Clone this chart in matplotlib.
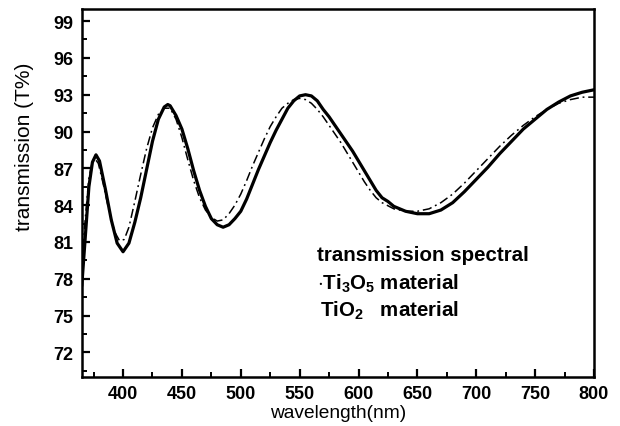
import matplotlib
matplotlib.use('Agg')
import matplotlib.pyplot as plt
from matplotlib.ticker import MultipleLocator

plt.rcParams['font.family'] = ['Liberation Sans', 'DejaVu Sans']
plt.rcParams['mathtext.fontset'] = 'custom'
plt.rcParams['mathtext.rm'] = 'Liberation Sans:bold'
plt.rcParams['mathtext.it'] = 'Liberation Sans:bold'
plt.rcParams['mathtext.bf'] = 'Liberation Sans:bold'

# TiO2 material (solid line)
wl_tio2 = [365, 368, 371, 374, 377, 380, 385, 390, 395, 400,
           405, 410, 415, 420, 425, 430, 435, 438, 440, 445,
           450, 455, 460, 465, 470, 475, 480, 485, 490, 495,
           500, 505, 510, 515, 520, 525, 530, 535, 540, 545,
           550, 555, 560, 565, 570, 575, 580, 585, 590, 595,
           600, 605, 610, 615, 620, 625, 630, 640, 650, 660,
           670, 680, 690, 700, 710, 720, 730, 740, 750, 760,
           770, 780, 790, 800]
t_tio2 = [77.5, 81.5, 85.5, 87.5, 88.1, 87.6, 85.3, 82.8, 80.9, 80.2,
          80.9, 82.6, 84.6, 86.9, 89.2, 91.0, 92.0, 92.2, 92.1, 91.3,
          90.2, 88.6, 86.8, 85.2, 83.9, 82.9, 82.4, 82.2, 82.4, 82.9,
          83.5, 84.5, 85.7, 86.9, 88.0, 89.1, 90.1, 91.0, 91.9, 92.5,
          92.9, 93.0, 92.9, 92.5, 91.8, 91.2, 90.5, 89.8, 89.1, 88.4,
          87.6, 86.8, 86.0, 85.2, 84.6, 84.3, 83.9, 83.5, 83.3, 83.3,
          83.6, 84.2, 85.1, 86.1, 87.1, 88.2, 89.2, 90.2, 91.0, 91.8,
          92.4, 92.9, 93.2, 93.4]

# Ti3O5 material (dash-dot line)
wl_ti3o5 = [365, 368, 371, 374, 376, 379, 383, 388, 393, 397,
            401, 405, 410, 415, 420, 425, 430, 435, 440, 445,
            450, 455, 460, 465, 470, 475, 480, 485, 490, 495,
            500, 505, 510, 515, 520, 525, 530, 535, 540, 545,
            550, 555, 560, 565, 570, 575, 580, 585, 590, 595,
            600, 605, 610, 615, 620, 630, 640, 650, 660, 670,
            680, 690, 700, 710, 720, 730, 740, 750, 760, 770,
            780, 790, 800]
t_ti3o5 = [79.0, 83.0, 86.2, 87.6, 87.8, 87.4, 85.8, 83.6, 81.8, 81.1,
           81.2, 82.2, 84.3, 86.5, 88.6, 90.3, 91.4, 91.9, 91.9, 91.0,
           89.5, 87.7, 86.0, 84.6, 83.6, 83.0, 82.7, 82.8, 83.3, 84.0,
           84.9, 86.0, 87.2, 88.3, 89.4, 90.4, 91.2, 91.9, 92.3, 92.6,
           92.7, 92.6, 92.3, 91.8, 91.2, 90.5, 89.8, 89.1, 88.3, 87.5,
           86.7, 85.9, 85.2, 84.6, 84.2, 83.7, 83.5, 83.5, 83.7, 84.2,
           84.9, 85.8, 86.8, 87.8, 88.8, 89.7, 90.5, 91.2, 91.8, 92.3,
           92.6, 92.8, 92.8]

fig = plt.figure(figsize=(6.2, 4.27), dpi=100)
ax = fig.add_axes([0.132, 0.115, 0.826, 0.862])

ax.plot(wl_tio2, t_tio2, color='black', linewidth=2.3, solid_joinstyle='round')
ax.plot(wl_ti3o5, t_ti3o5, color='black', linewidth=1.1, linestyle=(0, (6, 2.5, 1.2, 2.5)))

ax.set_xlim(365, 800)
ax.set_ylim(70, 100)
ax.xaxis.set_major_locator(MultipleLocator(50))
ax.xaxis.set_minor_locator(MultipleLocator(25))
ax.yaxis.set_minor_locator(MultipleLocator(1.5))
ax.set_yticks(range(72, 100, 3))

ax.tick_params(which='major', direction='in', length=6, width=1.6, labelsize=13, pad=6)
ax.tick_params(which='minor', direction='in', length=3.5, width=1.4)
for lab in ax.get_xticklabels() + ax.get_yticklabels():
    lab.set_fontweight('bold')
for sp in ax.spines.values():
    sp.set_linewidth(1.8)

ax.set_xlabel('wavelength(nm)', fontsize=13.8, labelpad=1)
ax.set_ylabel('transmission (T%)', fontsize=15)
ax.yaxis.set_label_coords(-0.094, 0.628)

ax.text(565, 80.0, 'transmission spectral', fontsize=14.8, fontweight='bold', va='center')
ax.text(565, 77.7, r'$\cdot$Ti$_3$O$_5$ material', fontsize=14.8, fontweight='bold', va='center')
ax.text(567, 75.5, r'TiO$_2$   material', fontsize=14.8, fontweight='bold', va='center')

fig.savefig('out.png', dpi=100)
